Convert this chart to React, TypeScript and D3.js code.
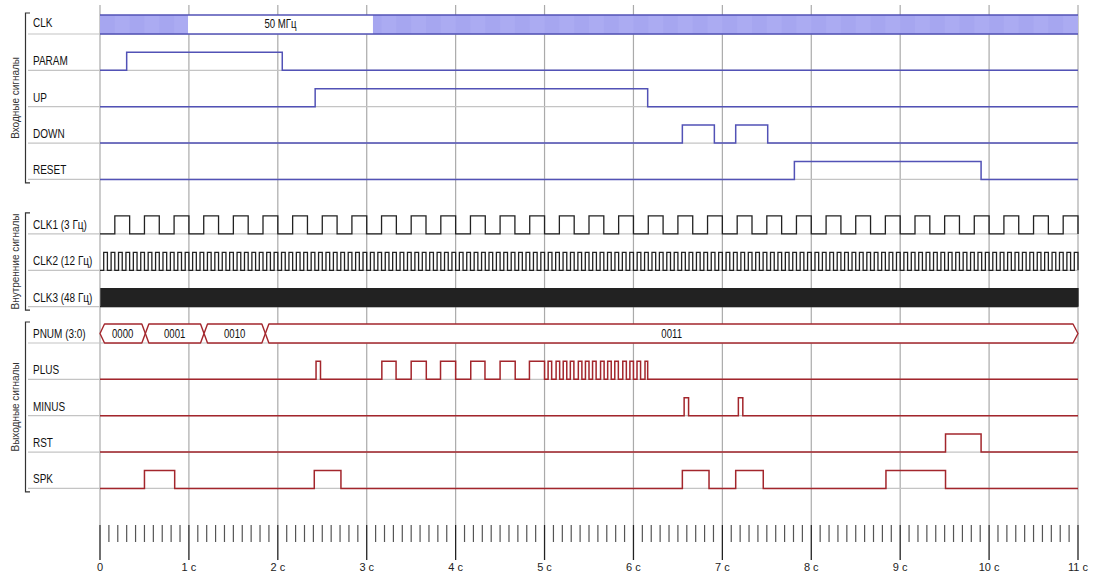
import { useMemo } from "react";
import * as d3 from "d3";

// time axis, seconds
const tickSeconds = [0, 1, 2, 3, 4, 5, 6, 7, 8, 9, 10, 11];
const tickLabels = ["0", "1 с", "2 с", "3 с", "4 с", "5 с", "6 с", "7 с", "8 с", "9 с", "10 с", "11 с"];
const minorStep = 0.1;

// input signals
const clkWindow = [0.99, 3.07];
const clkLabel = "50 МГц";
const paramPulses = [[0.3, 2.05]];
const upPulses = [[2.42, 6.16]];
const downPulses = [[6.55, 6.91], [7.15, 7.51]];
const resetPulses = [[7.81, 9.91]];

// internal clocks
const clockNames = ["CLK1 (3 Гц)", "CLK2 (12 Гц)", "CLK3 (48 Гц)"];
const clockFreqs = [3, 12, 48];

// outputs
const pnumValues = ["0000", "0001", "0010", "0011"];
const pnumChanges = [0.51, 1.17, 1.86];
const plusPulses = [
  [2.43, 2.48],
  [3.17, 3.33], [3.5, 3.67], [3.83, 4.0], [4.17, 4.33], [4.5, 4.67], [4.83, 5.0],
  [5.04, 5.08], [5.13, 5.17], [5.21, 5.25], [5.29, 5.33], [5.38, 5.42], [5.46, 5.5], [5.54, 5.58],
  [5.63, 5.67], [5.71, 5.75], [5.79, 5.83], [5.88, 5.92], [5.96, 6.0], [6.04, 6.08], [6.13, 6.16],
];
const minusPulses = [[6.57, 6.62], [7.18, 7.23]];
const rstPulses = [[9.51, 9.91]];
const spkPulses = [[0.5, 0.84], [2.41, 2.71], [6.55, 6.85], [7.15, 7.46], [8.84, 9.51]];

const groupNames = ["Входные сигналы", "Внутренние сигналы", "Выходные сигналы"];

const BLUE = "#5252b6";
const RED = "#a3262c";
const BLACK = "#222";
const FONT = "'Liberation Sans', Arial, sans-serif";
const SQUEEZE = 0.8; // the original uses a narrow face

type Row = { name: string; group: number; kind: string; color: string; pulses?: number[][]; freq?: number };

const rows: Row[] = [
  { name: "CLK", group: 0, kind: "band", color: BLUE },
  { name: "PARAM", group: 0, kind: "wave", color: BLUE, pulses: paramPulses },
  { name: "UP", group: 0, kind: "wave", color: BLUE, pulses: upPulses },
  { name: "DOWN", group: 0, kind: "wave", color: BLUE, pulses: downPulses },
  { name: "RESET", group: 0, kind: "wave", color: BLUE, pulses: resetPulses },
  ...clockNames.map((n, i) => ({ name: n, group: 1, kind: "clock", color: BLACK, freq: clockFreqs[i] })),
  { name: "PNUM (3:0)", group: 2, kind: "bus", color: RED },
  { name: "PLUS", group: 2, kind: "wave", color: RED, pulses: plusPulses },
  { name: "MINUS", group: 2, kind: "wave", color: RED, pulses: minusPulses },
  { name: "RST", group: 2, kind: "wave", color: RED, pulses: rstPulses },
  { name: "SPK", group: 2, kind: "wave", color: RED, pulses: spkPulses },
];

const T0 = 0;
const T1 = 11;
const ROW_STEP = 36.35;
const HIGH = 18;

const rowY = (i: number) => 34 + ROW_STEP * (i + (i >= 5 ? 0.5 : 0));

const clockPulses = (f: number) => {
  const p = 1 / f;
  const n = Math.round((T1 - T0) * f);
  return d3.range(n).map((k) => [k * p + p / 2, (k + 1) * p]);
};

const NarrowText = ({ x, y, size, anchor = "start", rotate = 0, fill = "#111", squeeze = SQUEEZE, children }: any) => (
  <text
    transform={`translate(${x},${y}) rotate(${rotate}) scale(${squeeze},1)`}
    textAnchor={anchor}
    dominantBaseline="central"
    fontFamily={FONT}
    fontSize={size}
    fill={fill}
  >
    {children}
  </text>
);

export default function App() {
  const x = d3.scaleLinear().domain([T0, T1]).range([100, 1078]);

  const wavePath = (pulses: number[][], base: number) => {
    const pts: [number, number][] = [[T0, 0]];
    pulses.forEach(([a, b]) => {
      pts.push([a, 0], [a, 1], [b, 1], [b, 0]);
    });
    pts.push([T1, 0]);
    const line = d3
      .line<[number, number]>()
      .x((d) => x(d[0]))
      .y((d) => base - d[1] * HIGH);
    return line(pts) as string;
  };

  const minorTicks = useMemo(
    () => d3.range(T0, T1 + 1e-6, minorStep).filter((t) => Math.abs(t - Math.round(t)) > 0.01),
    []
  );

  const groups = [0, 1, 2].map((g) => {
    const idx = rows.map((r, i) => (r.group === g ? i : -1)).filter((i) => i >= 0);
    return { top: rowY(idx[0]) - 21, bottom: rowY(idx[idx.length - 1]) + 3.5 };
  });

  return (
    <svg
      width={1094}
      height={574}
      style={{ position: "absolute", left: 0, top: 0, background: "#fff" }}
    >
      {/* vertical grid */}
      {tickSeconds.map((t) => (
        <line key={"g" + t} x1={x(t)} x2={x(t)} y1={5} y2={525} stroke="#aaa" strokeWidth={1.2} />
      ))}

      {/* row baselines */}
      {rows.map((r, i) => (
        <line key={"b" + i} x1={28} x2={x(T1)} y1={rowY(i)} y2={rowY(i)} stroke="#c4c4c4" strokeWidth={1.2} />
      ))}

      {/* group brackets */}
      {groups.map((g, i) => (
        <g key={"grp" + i}>
          <path
            d={`M30,${g.top} H25.5 V${g.bottom} H30`}
            fill="none"
            stroke="#333"
            strokeWidth={1.2}
          />
          <NarrowText x={15} y={(g.top + g.bottom) / 2} size={10.5} anchor="middle" rotate={-90} fill="#333" squeeze={0.95}>
            {groupNames[i]}
          </NarrowText>
        </g>
      ))}

      {/* signals */}
      {rows.map((r, i) => {
        const base = rowY(i);
        const label = (
          <NarrowText x={33} y={r.kind === "band" ? base - 11 : base - 9.5} size={12.5}>
            {r.name}
          </NarrowText>
        );
        if (r.kind === "band") {
          const top = base - 19;
          return (
            <g key={"r" + i}>
              <rect x={x(T0)} y={top} width={x(T1) - x(T0)} height={19} fill="#a6a6f0" />
              {d3.range(T0, T1, 1 / 6).map((t, k) =>
                k % 2 === 1 ? (
                  <rect key={k} x={x(t)} y={top} width={x(1 / 6) - x(0)} height={19} fill="#ababf2" />
                ) : null
              )}
              <rect x={x(clkWindow[0])} y={top} width={x(clkWindow[1]) - x(clkWindow[0])} height={19} fill="#fff" />
              <line x1={x(T0)} x2={x(T1)} y1={top} y2={top} stroke={BLUE} strokeWidth={1.5} />
              <line x1={x(T0)} x2={x(T1)} y1={base} y2={base} stroke={BLUE} strokeWidth={1.5} />
              <NarrowText x={(x(clkWindow[0]) + x(clkWindow[1])) / 2} y={base - 10} size={12} anchor="middle">
                {clkLabel}
              </NarrowText>
              {label}
            </g>
          );
        }
        if (r.kind === "bus") {
          const top = base - 19;
          const mid = base - 9.5;
          const bounds = [T0, ...pnumChanges, T1];
          return (
            <g key={"r" + i}>
              {pnumValues.map((v, k) => {
                const xa = x(bounds[k]);
                const xb = x(bounds[k + 1]);
                const ha = k === 0 ? 4.5 : 3.5;
                const hb = k === pnumValues.length - 1 ? 5 : 3.5;
                const d = `M${xa},${mid} L${xa + ha},${top} H${xb - hb} L${xb},${mid} L${xb - hb},${base} H${xa + ha} Z`;
                return (
                  <g key={v}>
                    <path d={d} fill="#fff" stroke={r.color} strokeWidth={1.4} strokeLinejoin="round" />
                    <NarrowText x={(xa + xb) / 2} y={mid} size={12} anchor="middle">
                      {v}
                    </NarrowText>
                  </g>
                );
              })}
              {label}
            </g>
          );
        }
        const pulses = r.kind === "clock" ? clockPulses(r.freq as number) : (r.pulses as number[][]);
        return (
          <g key={"r" + i}>
            <path
              d={wavePath(pulses, base)}
              fill="none"
              stroke={r.color}
              strokeWidth={r.kind === "clock" ? 1.3 : 1.5}
            />
            {label}
          </g>
        );
      })}

      {/* time axis */}
      {minorTicks.map((t, k) => (
        <line key={"m" + k} x1={x(t)} x2={x(t)} y1={525} y2={542} stroke="#555" strokeWidth={1.2} />
      ))}
      {tickSeconds.map((t, k) => (
        <g key={"t" + t}>
          <line x1={x(t)} x2={x(t)} y1={525} y2={560} stroke="#222" strokeWidth={1.3} />
          <text
            x={x(t)}
            y={567}
            textAnchor="middle"
            dominantBaseline="central"
            fontFamily={FONT}
            fontSize={11}
            fill="#222"
          >
            {tickLabels[k]}
          </text>
        </g>
      ))}
    </svg>
  );
}
